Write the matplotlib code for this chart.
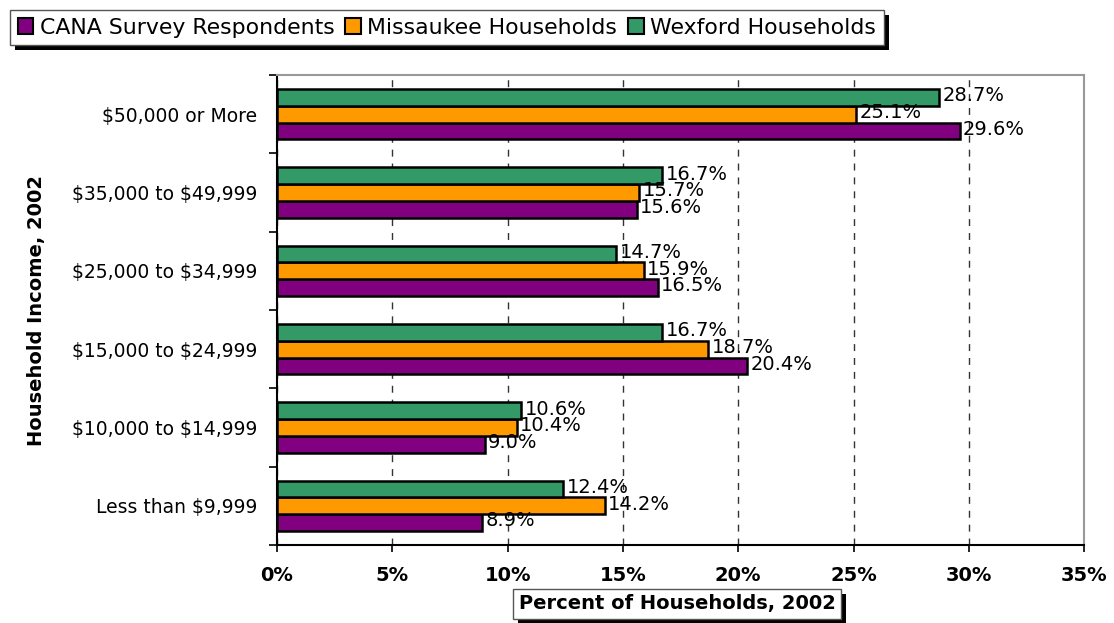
import numpy as np
import matplotlib.pyplot as plt
from matplotlib.patches import Rectangle

# Data (bottom to top)
categories = ['Less than \\$9,999', '\\$10,000 to \\$14,999', '\\$15,000 to \\$24,999',
              '\\$25,000 to \\$34,999', '\\$35,000 to \\$49,999', '\\$50,000 or More']
cana = [8.9, 9.0, 20.4, 16.5, 15.6, 29.6]
missaukee = [14.2, 10.4, 18.7, 15.9, 15.7, 25.1]
wexford = [12.4, 10.6, 16.7, 14.7, 16.7, 28.7]

series_names = ['CANA Survey Respondents', 'Missaukee Households', 'Wexford Households']
colors = ['#800080', '#FF9900', '#339966']

plt.rcParams['font.family'] = 'DejaVu Sans'

fig = plt.figure(figsize=(11.14, 6.23), dpi=100)
ax = fig.add_axes([0.2487, 0.1252, 0.7245, 0.7544])

y = np.arange(len(categories))
h = 0.213
for k, (vals, col) in enumerate(zip([cana, missaukee, wexford], colors)):
    pos = y + (k - 1) * h
    ax.barh(pos, vals, height=h, color=col, edgecolor='black', linewidth=1.8,
            zorder=3, label=series_names[k])
    for p, v in zip(pos, vals):
        ax.text(v + 0.15, p + 0.02, f'{v:.1f}%', va='center', ha='left', fontsize=14, zorder=4)

ax.set_xlim(0, 35)
ax.set_ylim(-0.5, 5.5)
ax.set_xticks(np.arange(0, 36, 5))
ax.set_xticklabels([f'{v}%' for v in range(0, 36, 5)], fontsize=14, fontweight='bold')
ax.tick_params(axis='x', length=5, width=1.2, pad=10, direction='out')

ax.set_yticks(np.arange(-0.5, 6, 1))
ax.set_yticklabels([])
ax.set_yticks(y, minor=True)
ax.set_yticklabels(categories, minor=True, fontsize=13.5)
ax.tick_params(axis='y', which='major', length=6, width=1.2)
ax.tick_params(axis='y', which='minor', length=0, pad=14)

ax.xaxis.grid(True, linestyle=(0, (5, 5)), color='#333333', linewidth=1, zorder=0)
ax.set_axisbelow(True)

ax.spines['left'].set_color('black')
ax.spines['left'].set_linewidth(1.5)
ax.spines['bottom'].set_color('black')
ax.spines['bottom'].set_linewidth(1.5)
ax.spines['top'].set_color('#999999')
ax.spines['top'].set_linewidth(1.5)
ax.spines['right'].set_color('#999999')
ax.spines['right'].set_linewidth(1.5)

fig.text(37 / 1114, 1 - 310 / 623, 'Household Income, 2002', rotation=90,
         ha='center', va='center', fontsize=14, fontweight='bold')

xl = fig.text(677 / 1114, 1 - 604 / 623, 'Percent of Households, 2002',
              ha='center', va='center', fontsize=14, fontweight='bold',
              bbox=dict(boxstyle='square,pad=0.3', facecolor='white',
                        edgecolor='#555555', linewidth=1))

leg = fig.legend(loc='upper left', bbox_to_anchor=(10 / 1114, 1 - 10 / 623),
                 ncol=3, fontsize=15.8, frameon=True, fancybox=False, framealpha=1,
                 handlelength=0.7, handleheight=0.7, handletextpad=0.3,
                 columnspacing=0.5, borderpad=0.35, borderaxespad=0)
leg.get_frame().set_edgecolor('#555555')
leg.get_frame().set_linewidth(1)
for hd in leg.legend_handles:
    hd.set_linewidth(1.5)

# black drop shadows behind the legend and the x label box
fig.canvas.draw()
W, H = fig.bbox.width, fig.bbox.height
for bb in [leg.get_frame().get_window_extent(), xl.get_bbox_patch().get_window_extent()]:
    fig.patches.append(Rectangle(((bb.x0 + 5) / W, (bb.y0 - 5) / H), bb.width / W, bb.height / H,
                                 transform=fig.transFigure, facecolor='black',
                                 edgecolor='none', zorder=1))
xl.set_zorder(6)

plt.savefig('out.png', dpi=100)
